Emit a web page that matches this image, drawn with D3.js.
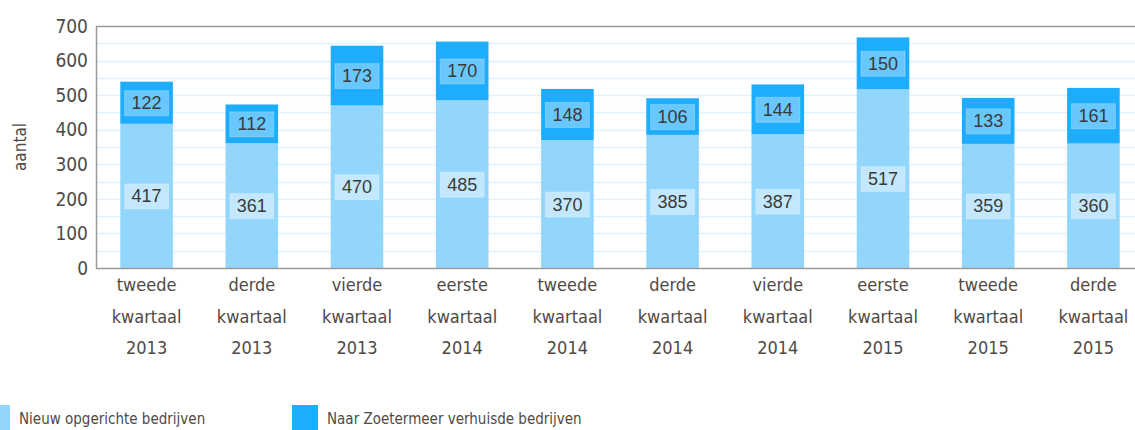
<!DOCTYPE html>
<html>
<head>
<meta charset="utf-8">
<script src="https://cdn.jsdelivr.net/npm/d3@7"></script>
<style>
  body { margin: 0; background: #fff; overflow: hidden; }
  text { font-family: "DejaVu Sans Condensed", "DejaVu Sans", sans-serif; }
</style>
</head>
<body>
<svg id="chart" width="1135" height="430"></svg>
<script>
"use strict";

let periods = ["tweede", "derde", "vierde", "eerste", "tweede", "derde", "vierde", "eerste", "tweede", "derde"];
let years = ["2013", "2013", "2013", "2014", "2014", "2014", "2014", "2015", "2015", "2015"];
let nieuw = [417, 361, 470, 485, 370, 385, 387, 517, 359, 360];
let verhuisd = [122, 112, 173, 170, 148, 106, 144, 150, 133, 161];
let yTicks = [0, 100, 200, 300, 400, 500, 600, 700];
let seriesNames = ["Nieuw opgerichte bedrijven", "Naar Zoetermeer verhuisde bedrijven"];

let colorLight = "#93d6fc";
let colorDark = "#1eadfc";
let textColor = "#4f4a46";

let svg = d3.select("#chart");
let plot = { left: 96, top: 26, right: 1147, bottom: 268 };

let x = d3.scaleBand()
    .domain(d3.range(nieuw.length))
    .range([94, 1146])
    .paddingInner(0.5)
    .paddingOuter(0.25);

let y = d3.scaleLinear()
    .domain([0, 700])
    .range([plot.bottom, plot.top]);

// light gridlines every 50
svg.append("g")
    .selectAll("line")
    .data(d3.range(50, 700, 50))
    .enter().append("line")
    .attr("x1", plot.left)
    .attr("x2", plot.right)
    .attr("y1", d => Math.round(y(d)) + 0.5)
    .attr("y2", d => Math.round(y(d)) + 0.5)
    .style("stroke", "#dcf2fd")
    .style("stroke-width", 1.5);

// stacked bars
let bars = svg.append("g")
    .selectAll("g")
    .data(nieuw.map((d, i) => ({ i: i, low: d, high: verhuisd[i] })))
    .enter().append("g");

bars.append("rect")
    .attr("x", d => x(d.i))
    .attr("width", x.bandwidth())
    .attr("y", d => y(d.low))
    .attr("height", d => y(0) - y(d.low))
    .style("fill", colorLight);

bars.append("rect")
    .attr("x", d => x(d.i))
    .attr("width", x.bandwidth())
    .attr("y", d => y(d.low + d.high))
    .attr("height", d => y(d.low) - y(d.low + d.high))
    .style("fill", colorDark);

// value labels with pale boxes
function addLabel(sel, valueFn, midFn, opacity) {
    let g = sel.append("g")
        .attr("transform", d => "translate(" + (x(d.i) + x.bandwidth() / 2) + "," + y(midFn(d)) + ")");
    g.append("rect")
        .attr("x", -22)
        .attr("y", -12)
        .attr("width", 44)
        .attr("height", 25)
        .style("fill", "#ffffff")
        .style("fill-opacity", opacity)
        .style("stroke", "#ffffff")
        .style("stroke-opacity", 0.25);
    g.append("text")
        .attr("text-anchor", "middle")
        .attr("dy", "0.36em")
        .style("font-family", "'Liberation Sans', Arial, sans-serif")
        .style("font-size", "18px")
        .style("fill", "#3a3a3a")
        .text(valueFn);
}

addLabel(bars, d => d.low, d => d.low / 2, 0.45);
addLabel(bars, d => d.high, d => d.low + d.high / 2, 0.33);

// frame
svg.append("path")
    .attr("d", "M" + plot.right + "," + (plot.top + 0.5) + "H" + (plot.left + 0.5) + "V" + (plot.bottom + 0.5) + "H" + plot.right)
    .style("fill", "none")
    .style("stroke", "#9a9a9a")
    .style("stroke-width", 1.5);

// y axis labels
svg.append("g")
    .selectAll("text")
    .data(yTicks)
    .enter().append("text")
    .attr("x", 88)
    .attr("y", d => y(d))
    .attr("dy", "0.35em")
    .attr("text-anchor", "end")
    .style("font-size", "19px")
    .style("fill", textColor)
    .text(d => d);

svg.append("text")
    .attr("transform", "translate(26," + ((plot.top + plot.bottom) / 2) + ") rotate(-90)")
    .attr("text-anchor", "middle")
    .style("font-size", "17px")
    .style("fill", textColor)
    .text("aantal");

// x axis labels, three lines each
let xLabels = svg.append("g")
    .selectAll("text")
    .data(periods.map((p, i) => [p, "kwartaal", years[i]]))
    .enter().append("text")
    .attr("text-anchor", "middle")
    .style("font-size", "18px")
    .style("fill", textColor);

xLabels.each(function(lines, i) {
    let cx = x(i) + x.bandwidth() / 2;
    d3.select(this).selectAll("tspan")
        .data(lines)
        .enter().append("tspan")
        .attr("x", cx)
        .attr("y", (d, j) => 291 + j * 31.5)
        .text(d => d);
});

// legend
let legend = svg.append("g")
    .selectAll("g")
    .data(seriesNames)
    .enter().append("g")
    .attr("transform", (d, i) => "translate(" + (i === 0 ? -16 : 292) + ",405)");

legend.append("rect")
    .attr("width", 26)
    .attr("height", 26)
    .style("fill", (d, i) => i === 0 ? colorLight : colorDark);

legend.append("text")
    .attr("x", 35)
    .attr("y", 19)
    .style("font-size", "15px")
    .style("fill", textColor)
    .text(d => d);
</script>
</body>
</html>
